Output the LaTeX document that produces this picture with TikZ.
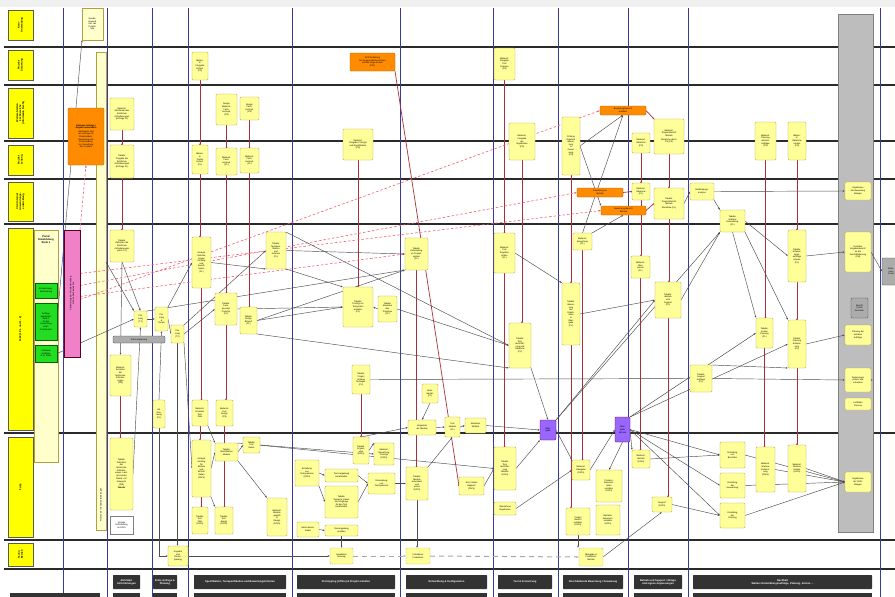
\documentclass[tikz,border=0pt]{standalone}
\usepackage{fontspec}
\setmainfont{Liberation Sans}
\usetikzlibrary{arrows.meta,calc}
\definecolor{byel}{HTML}{FFFF99}
\definecolor{bbord}{HTML}{B0A040}
\definecolor{hyel}{HTML}{FFFF00}
\definecolor{lyel}{HTML}{FFFFCC}
\definecolor{oran}{HTML}{FF8C00}
\definecolor{lanec}{HTML}{2A2A2A}
\definecolor{colc}{HTML}{3A3A9A}
\definecolor{redl}{HTML}{A8303A}
\definecolor{pinkl}{HTML}{F06070}
\definecolor{pinkb}{HTML}{F080C8}
\definecolor{greenb}{HTML}{22DD22}
\definecolor{grayc}{HTML}{BDBDBD}
\definecolor{purp}{HTML}{9966FF}
\definecolor{phase}{HTML}{333333}
\pgfdeclarelayer{back}\pgfdeclarelayer{mid}\pgfsetlayers{back,mid,main}
\tikzset{
 tf/.style={font=\fontsize{2.2}{2.6}\selectfont},
 yb/.style={draw=bbord,fill=byel,rounded corners=1.2pt,line width=0.4pt,inner sep=0.4pt,outer sep=0pt,align=center,tf},
 ob/.style={yb,draw=orange!70!black,fill=oran},
 db/.style={yb,dash pattern=on 1.2pt off 0.8pt},
 pb/.style={yb,draw=purple!60!black,fill=purp},
 gb/.style={yb,draw=gray!60!black,fill=gray!65},
 wb/.style={yb,draw=gray,fill=white,rounded corners=0pt},
 lb/.style={yb,fill=lyel,rounded corners=0pt},
 grb/.style={yb,fill=greenb,draw=green!40!black,rounded corners=0pt},
 pkb/.style={yb,fill=pinkb,draw=purple!50!black,rounded corners=0pt},
 gcol/.style={yb,fill=grayc,draw=gray,rounded corners=0pt},
 ar/.style={draw=black!70,line width=0.45pt,-{Latex[length=2.2pt,width=1.8pt]}},
 rl/.style={draw=redl,line width=0.7pt,-{Circle[length=1.6pt]}},
 pl/.style={draw=pinkl,line width=0.6pt,dash pattern=on 2.5pt off 2pt,-{Latex[length=2.5pt,width=2pt]}},
 bl/.style={draw=gray!70,line width=1pt,dash pattern=on 5pt off 4pt,-{Latex[length=2.5pt,width=2pt]}},
 hd/.style={draw=gray!70!black,fill=hyel,line width=0.4pt,outer sep=0pt,inner sep=0pt},
 phb/.style={fill=phase,rounded corners=0.6pt,text=white,font=\fontsize{2.6}{3}\selectfont\bfseries,align=center,inner sep=0pt,outer sep=0pt},
}
\newcommand\bx[7][yb]{\node[#1,minimum width={(#5-#3)*1pt},minimum height={(#6-#4)*1pt}] (#2) at ({(#3+#5)/2},{(#4+#6)/2}) {#7};}
\newcommand\hdr[6]{\bx[hd]{#1}{#2}{#3}{#4}{#5}{}\node[rotate=90,font=\fontsize{2.6}{3}\selectfont\bfseries,align=center] at (#1) {#6};}
\newcommand\rv[2]{\draw[rl] (#1.south) -- (#1.south |- #2.north);}
\begin{document}
\begin{tikzpicture}[x=1pt,y=-1pt]
\useasboundingbox (0,0) rectangle (895,597);
\begin{pgfonlayer}{back}
\fill[white] (0,0) rectangle (895,597);
\fill[gray!12] (0,0) rectangle (895,7);
\foreach \y in {47,85,141,179,224,433,540,569} \draw[lanec,line width=1.3pt] (4,\y) -- (895,\y);
\foreach \x in {63,107,152,188,292,400,493,558,628,688,880} \draw[colc,line width=0.8pt] (\x,8) -- (\x,597);
% lane headers
\hdr{h1}{8}{10}{33}{40}{Kern-\\Anwendung}
\hdr{h2}{8}{50}{33}{80}{Projekt-\\Steuerung}
\hdr{h3}{8}{88}{33}{138}{Weitere Stellen\\Fachbereiche\\(Informatik, Recht)}
\hdr{h4}{8}{145}{33}{175}{Projekt-\\Leitung}
\hdr{h5}{8}{182}{33}{221}{CSC Internet\\Anwendungs-\\entwicklung}
\hdr{h6}{8}{228}{33}{430}{1553 (1 PL und 1 - 2)}
\hdr{h7}{8}{437}{33}{537}{FAPs}
\hdr{h8}{8}{543}{33}{566}{Techn.\\Betrieb}
\bx[lb]{lp}{34}{230}{58}{462}{}
\node[tf,align=center,font=\fontsize{2.6}{3}\selectfont\bfseries] at (46,240) {Portal\\Entwicklung\\Stufe 1};
\bx[lb]{lbar}{96}{52}{106}{530}{}
\node[rotate=90,tf] at (101,505) {Prozess der Sonderanforderungen};
\bx[gcol]{gcol}{838}{14}{873}{532}{}
\end{pgfonlayer}
% left column boxes
\bx[lb]{topA}{82}{8}{103}{40}{Sonder-\\anwend.\\Kat. der\\Projekt-\\liste}
\bx[ob]{oA}{68}{108}{104}{165}{\textbf{Optionen Anfrage /}\\\textbf{Angebot entwickeln}\\[1pt]Abstimmen Ziel\\der Anfrage mit\\Stakeholdern;\\Bewertung und\\Entscheidung\\zur Umsetzung\\des Projekts}
\bx[pkb]{pk}{64}{230}{80}{357}{}
\node[rotate=90,tf,align=center] at (pk) {Abstimmung der Portalentwicklung\\mit den Fachbereichen};
\bx[grb]{gr1}{35}{283}{57}{298}{Entwicklungs-\\abstimmung}
\bx[grb]{gr2}{35}{303}{57}{340}{Anfrage\\bearbeiten\\Stufe 1\\für die\\Umsetzung\\beim\\Fachbereich}
\bx[grb]{gr3}{35}{345}{57}{362}{Aufwand\\schätzen\\\& PL Stufe}
% column B
\bx{bB1}{110}{98}{134}{130}{Meilenst.\\Abstimmen der\\fachlichen\\Anforderungen\\(Anfrage PL)}
\bx{bB2}{110}{145}{134}{178}{Tabelle:\\Freigabe der\\fachlichen\\Anforderungen\\(Anfrage PL)}
\bx{bB3}{110}{230}{134}{262}{Tabelle:\\Definition der\\fachlichen\\Anforderungen\\(nach PL)}
\bx{bB4}{134}{311}{147}{327}{Pla-\\nung\\(T1)}
\bx[gb]{gB}{113}{336}{165}{343}{Rahmenplanung}
\bx{bB5}{110}{355}{131}{396}{Meilenst.\\Erstellen\\der\\fachlichen\\Anforder-\\ungen\\(PM)}
\bx{bB6}{110}{438}{133}{510}{Tabelle:\\Definition\\der\\fachlichen\\Anforder-\\ungen, Leist.\\(je Kunde)\\[1pt]Bearb. mit\\Kategorie\\(PM)\\[1pt]\textbf{Tabelle}}
\bx[wb]{wB}{110}{516}{133}{534}{Vorlage\\Anforderung\\an FAPs}
% column C
\bx{bC1}{155}{307}{168}{331}{Pla-\\nung\\\&\\Termin}
\bx{bC2}{171}{325}{184}{343}{Pla-\\nung\\(T2)}
\bx{bC3}{153}{400}{165}{428}{Ab-\\stim-\\mung\\(PL)}
\bx{bC4}{168}{546}{188}{566}{Angebot\\und\\Termin-\\planung}
% column D
\bx{bD1}{192}{52}{208}{80}{Meilen-\\st.\\Freigabe\\Anford.\\(PS)}
\bx{bD2}{216}{94}{237}{125}{Design\\Meilenst.\\Fach-\\konzept\\(PS)}
\bx{bD3}{240}{97}{259}{120}{Design\\Fach-\\konzept\\(PS)}
\bx{bD4}{192}{145}{208}{174}{Meilen-\\st.\\Prüfen\\Anford.\\(PL)}
\bx{bD5}{216}{148}{237}{175}{Meilenst.\\Fach-\\konzept\\(PL)}
\bx{bD6}{240}{148}{259}{173}{Meilenst.\\Fach-\\konzept\\(PL)}
\bx{bD7}{192}{237}{211}{288}{Analyse\\Anforde-\\rungen\\Umfang\\und\\Spezifi-\\kation\\(PL)}
\bx{bD8}{215}{293}{237}{325}{Tabelle:\\Fach-\\konzept\\Prototyp\\(PL)}
\bx{bD9}{240}{307}{257}{334}{Tabelle:\\Design\\Entwurf\\(PL)}
\bx{bD10}{266}{232}{286}{269}{Tabelle:\\Testspezi-\\fikation\\und\\Kriterien\\(PL)}
\bx{bD11}{192}{400}{208}{426}{Meilenst.\\Erstellen\\Test-\\fälle}
\bx{bD12}{216}{400}{233}{426}{Meilenst.\\Test\\Design\\(PS)}
\bx{bD13}{192}{440}{211}{497}{Analyse\\Umfang\\für\\Module\\und\\Schnitt-\\stellen\\(FAPs)}
\bx{bD14}{215}{443}{238}{461}{Tabelle:\\Spezifikation\\Module}
\bx{bD15}{243}{437}{260}{453}{Tabelle:\\Test\\Daten}
\bx{bD16}{192}{507}{208}{534}{Tabelle:\\Test-\\fälle\\(FAPs)}
\bx{bD17}{215}{507}{233}{534}{Tabelle:\\Test-\\design\\(FAPs)}
\bx{bD18}{267}{498}{287}{536}{Meilenst.\\Module\\geprüft\\\&\\Design\\(FAPs)}
% column E
\bx[ob]{oE1}{350}{53}{395}{71}{NFO-Erstellung\\für die geschätzten Kosten\\und die Folge-Kosten\\(PSI)}
\bx{bE2}{343}{129}{373}{160}{Meilenst.\\Freigabe Prototyp\\und Spezifikation\\(PS)}
\bx{bE3}{343}{287}{373}{327}{Tabelle:\\Prototyp im\\Testsystem\\erstellen\\(PL)}
\bx{bE4}{378}{296}{397}{322}{Tabelle:\\Abnahme\\des\\Prototyps\\(PL)}
\bx{bE5}{352}{365}{370}{394}{Tabelle:\\Projekt\\Umfang\\festlegen\\(PL)}
\bx{bE6}{353}{437}{369}{464}{Tabelle:\\Projekt-\\plan\\(FAPs)}
\bx{bE7}{374}{443}{394}{465}{Meilenst.\\Bewertung\\Prototyp\\(FAPs)}
\bx{bE8}{295}{460}{319}{486}{Erstellung\\von\\Testsystemen\\(FAPs)}
\bx{bE9}{325}{469}{358}{482}{Test Umgebung\\bereitstellen}
\bx{bE10}{325}{486}{358}{518}{Tabelle:\\Systeme, Daten\\und Zugänge\\für den Test\\bereitstellen}
\bx{bE11}{368}{473}{395}{494}{Entwicklung\\von\\Testsystemen}
\bx{bE12}{297}{522}{319}{537}{Daten bereit-\\stellen}
\bx{bE13}{325}{525}{358}{536}{Testumgebung\\erstellen}
\bx[db]{bE14}{330}{548}{353}{564}{Installation\\Testumg.}
% column F
\bx{bF1}{405}{238}{428}{270}{Tabelle:\\Entwicklung\\im Projekt-\\system\\(PL)}
\bx{bF2}{422}{384}{438}{403}{Doku-\\mentat.\\(PL)}
\bx{bF3}{408}{420}{436}{435}{Integration\\der Module}
\bx{bF4}{445}{417}{460}{437}{Test\\Module\\(PL)}
\bx{bF5}{465}{418}{486}{433}{Abnahme\\Module}
\bx{bF6}{406}{467}{428}{500}{Tabelle:\\Module\\entwickeln\\und\\testen\\(FAPs)}
\bx{bF7}{459}{477}{484}{495}{Test / Daten\\Abgleich\\(FAPs)}
\bx[db]{bF8}{406}{548}{430}{564}{Installation\\Produktion}
% column G
\bx{bG1}{494}{48}{515}{80}{Meilenst.\\Freigabe\\Test\\Kriterien\\(PS)}
\bx{bG2}{509}{123}{535}{160}{Meilenst.\\Freigabe\\der\\Ergebnisse\\(PS)}
\bx{bG3}{494}{233}{515}{273}{Meilenst.\\Test\\Ergebnis\\prüfen\\(PL)}
\bx{bG4}{509}{323}{531}{368}{Tabelle:\\Test-\\durchfüh-\\rung und\\Abnahme\\(PL)}
\bx{bG5}{494}{447}{516}{490}{Tabelle:\\Test-\\durchfüh-\\rung\\Module\\(FAPs)}
\bx{bG6}{494}{502}{516}{515}{Übernahme\\Ergebnisse}
\bx[pb]{pG}{540}{420}{556}{440}{Über-\\gabe}
% column H
\bx{bH1}{562}{117}{580}{175}{Prüfung\\Ergebnis\\Bewer-\\tung\\\&\\Zuwei-\\sung\\(PS)}
\bx[ob]{oH2}{600}{106}{646}{115}{Bewertungsbericht\\erstellen}
\bx[ob]{oH3}{577}{188}{623}{197}{Zuweisung an\\Betrieb}
\bx[ob]{oH4}{601}{206}{646}{215}{Bewertungsbericht\\Betrieb}
\bx{bH5}{573}{233}{592}{250}{Meilenst.\\Bewertung\\(PL)}
\bx{bH6}{562}{283}{580}{345}{Tabelle:\\Bewer-\\tung\\der\\Ergeb-\\nisse\\\&\\Über-\\gabe\\(PL)}
\bx{bH7}{572}{460}{590}{480}{Meilenst.\\Übergabe\\(FAPs)}
\bx{bH8}{566}{508}{590}{535}{Projekt\\Bericht\\erstellen\\(FAPs)}
\bx{bH9}{596}{470}{622}{502}{Prozess-\\dokumen-\\tation\\erstellen\\(FAPs)}
\bx{bH10}{596}{505}{620}{535}{Betriebs-\\dokument.\\erstellen\\(FAPs)}
\bx[pb]{pH}{615}{417}{630}{442}{Über-\\gabe\\Betrieb}
\bx[db]{bH11}{579}{548}{603}{566}{Übergabe in\\Produktion\\Betrieb}
% column I
\bx{bI1}{632}{133}{650}{153}{Meilenst.\\Abnahme\\(PS)}
\bx{bI2}{654}{119}{684}{154}{Meilenst.\\Projekt-Bericht\\Betrieb\\[1pt]Abnahme durch\\PS (PS)}
\bx{bI3}{632}{183}{650}{200}{Meilenst.\\Abnahme\\(PL)}
\bx{bI4}{654}{188}{684}{219}{Tabelle:\\Projekt-Bericht\\Betrieb\\[1pt]Abnahme (PL)}
\bx{bI5}{631}{256}{650}{278}{Meilenst.\\Über-\\nahme\\(PL)}
\bx{bI6}{655}{282}{681}{318}{Tabelle:\\Betrieb\\und\\Support\\(PL)}
\bx{bI7}{632}{450}{650}{468}{Meilenst.\\Betrieb\\(FAPs)}
\bx{bI8}{652}{497}{672}{512}{Support\\(FAPs)}
% column J
\bx{bJ1}{690}{183}{714}{200}{Gefährdungs-\\analyse}
\bx{bJ2}{720}{210}{745}{232}{Tabelle:\\Weitere\\Entwicklung\\(PL)}
\bx{bJ3}{755}{122}{776}{160}{Meilenst.\\Planung\\weiterer\\Aufträge\\(PS)}
\bx{bJ4}{788}{122}{806}{160}{Meilen-\\st.\\Abnahme\\Kosten\\(PS)}
\bx{bJ5}{788}{230}{806}{282}{Tabelle:\\Entwick-\\lungs-\\aufträge\\planen\\(PL)}
\bx{bJ6}{756}{318}{773}{348}{Tabelle:\\Kosten\\Planung\\(PL)}
\bx{bJ7}{690}{365}{712}{392}{Tabelle:\\Support\\Aufträge\\(PL)}
\bx{bJ8}{720}{442}{745}{468}{Erstellung\\von\\Berichten}
\bx{bJ9}{720}{473}{745}{498}{Erstellung\\der\\Auswertung}
\bx{bJ10}{720}{503}{745}{528}{Erstellung\\der\\Planung}
\bx{bJ11}{756}{447}{775}{492}{Meilenst.\\Weitere\\Entwick-\\lung\\(FAPs)}
\bx{bJ12}{788}{445}{806}{492}{Meilenst.\\Weitere\\Kosten\\(FAPs)}
\bx{bJ13}{788}{320}{806}{368}{Tabelle:\\Planung\\Entwick-\\lung\\(PL)}
% gray column
\bx{bK1}{845}{182}{871}{200}{Ergebnisse\\der Bewertung\\ablegen}
\bx{bK2}{845}{232}{871}{272}{Erstellen\\Ergebnisbericht\\an die\\Geschäftsleitung\\(PM)}
\bx[gb]{gK3}{851}{298}{868}{318}{Bericht\\Portal\\Gremium}
\bx{bK4}{845}{325}{871}{345}{Planung der\\weiteren\\Aufträge}
\bx{bK5}{845}{368}{871}{392}{Änderungen\\planen und\\umsetzen}
\bx{bK6}{845}{398}{871}{410}{Leitfaden\\Prozess}
\bx{bK7}{845}{472}{871}{492}{Ergebnisse\\der FAPs\\ablegen}
\bx[gb]{kOff}{882}{258}{900}{285}{Doku-\\ment\\Portal}
% phases
\bx[phb]{ph1}{113}{575}{140}{589}{Abl./Start\\Anforderungen}
\bx[phb]{ph2}{153}{575}{177}{589}{Erste Anfrage \&\\Planung}
\bx[phb]{ph3}{194}{575}{286}{589}{Spezifikation, Testspezifikation und Bewertungskriterien}
\bx[phb]{ph4}{297}{575}{395}{589}{Prototyping (offline) \& Projekt erstellen}
\bx[phb]{ph5}{406}{575}{487}{589}{Entwicklung \& Konfiguration}
\bx[phb]{ph6}{498}{575}{552}{589}{Test \& Freisetzung}
\bx[phb]{ph7}{563}{575}{623}{589}{Abschließende Bewertung / Zuweisung}
\bx[phb]{ph8}{634}{575}{682}{589}{Betrieb und Support / Ablage\\und eigene Anpassungen}
\bx[phb]{ph9}{693}{575}{872}{589}{Nachhalt\\Weitere Entwicklungsaufträge, Planung, Kosten ...}
\foreach \a/\b in {10/100,113/140,153/177,194/286,297/395,406/487,498/552,563/623,634/682,693/872}
  \fill[phase] (\a,593) rectangle (\b,597);
\begin{pgfonlayer}{mid}
% red verticals
\rv{bB1}{bB2} \rv{bB2}{bB3} \rv{bB5}{bB6}
\rv{bD1}{bD4} \rv{bD4}{bD7} \rv{bD7}{bD11} \rv{bD11}{bD13} \rv{bD13}{bD16}
\rv{bD2}{bD5} \rv{bD5}{bD8} \rv{bD8}{bD12} \rv{bD12}{bD17}
\rv{bD3}{bD6} \rv{bD6}{bD9}
\rv{bE2}{bE3} \rv{bE5}{bE6}
\rv{bF1}{bF6}
\rv{bG1}{bG3} \rv{bG3}{bG5} \rv{bG2}{bG4}
\rv{bH1}{bH6} \rv{bH6}{bH8} \rv{bH5}{bH7}
\rv{bI1}{bI3} \rv{bI3}{bI5} \rv{bI5}{bI7}
\rv{bI2}{bI4} \rv{bI4}{bI6} \rv{bI6}{bI8}
\rv{bJ3}{bJ6} \rv{bJ6}{bJ11} \rv{bJ4}{bJ5} \rv{bJ5}{bJ13} \rv{bJ13}{bJ12}
\draw[rl] (oE1.south east) -- (bF7.west);
\draw[rl] (oH2.east) -- (bI2.north west);
\draw[rl] (oH3.east) -- (bI3.west);
\draw[rl] (oH4.east) -- (bI4.west);
% pink dashed
\draw[pl] (pk.north east) -- (oA.south);
\draw[pl] ([yshift=-6pt]pk.east) -- (oH2.west);
\draw[pl] ([yshift=8pt]pk.east) -- (oH3.west);
\draw[pl] ([yshift=20pt]pk.east) -- (oH4.west);
\draw[pl] ([yshift=-3pt]pk.east) -- (bF1.west);
% left group
\draw[ar] (gr3.east) -- (bB4.west);
\draw[ar] (gr2.east) -- (topA.south west);
\draw[ar] ([yshift=29pt]lbar.east) -- (bB4.north west);
\draw[ar] (bB3.south) -- (bB4.north);
\draw[ar] (bB3.south) -- (bB5.north);
\draw[ar] (bB4.east) -- (bC1.west);
\draw[ar] (bC1.east) -- (bC2.west);
\draw[ar] (bC1.north east) -- (bD7.west);
\draw[ar] (bC2.east) -- (bD8.west);
\draw[ar] (bC2.north east) -- (bD10.west);
\draw[ar] (bD7.east) -- (bD10.south west);
\draw[ar] (bC3.north) -- (bC1.south);
\draw[ar] (bB6.east) -- (bB4.south);
\draw[ar] (bC2.south) -- (bC2.south |- bC4.north);
\draw[ar] (bC3.south) -- (bC3.south |- bC4.west) -- (bC4.west);
\draw[ar] (bC2.south east) -- (bD13.west);
\draw[ar] (bD13.east) -- (bD14.west);
\draw[ar] (bD14.east) -- (bD15.west);
\draw[ar] (bD14.south east) -- (bD18.north west);
\draw[ar] (bD11.south east) -- (bD14.north west);
\draw[ar] (bD15.east) -- (bE7.west);
\draw[ar] (bD14.north east) -- (bG5.west);
\draw[ar] (bD13.south east) -- (bD17.north west);
% middle
\draw[ar] (bD10.east) -- (bF1.west);
\draw[ar] (bD9.east) -- (bF1.south west);
\draw[ar] (bD9.east) -- (bE3.west);
\draw[ar] (bD10.south east) -- (bE3.north west);
\draw[ar] (bD8.east) -- (bE3.west);
\draw[ar] (bE4.west) -- (bE3.east);
\draw[ar] (bD10.north east) -- (bG4.west);
\draw[ar] (bD9.south east) -- (bG4.south west);
\draw[ar] (bE4.east) -- (bG4.west);
\draw[ar] (bB4.north east) -- (bF1.south west);
\draw[ar] (bE5.east) -- (bJ7.west);
\draw[ar] (bF2.south) -- (bF3.north);
\draw[ar] (bF3.east) -- (bF4.west);
\draw[ar] (bF4.east) -- (bF5.west);
\draw[ar] (bF5.east) -- (pG.west);
\draw[ar] (bE6.north) -- (bF3.west);
\draw[ar] (bE8.east) -- (bE9.west);
\draw[ar] (bE9.east) -- (bE11.west);
\draw[ar] (bE10.east) -- (bE11.west);
\draw[ar] (bE8.south east) -- (bE10.west);
\draw[ar] (bE11.east) -- (bF6.west);
\draw[ar] (bF6.north east) -- (bF4.south);
\draw[ar] (bF7.east) -- (bG5.west);
\draw[ar] (bE12.east) -- (bE13.west);
\draw[ar] (bE13.south) -- (bE13.south |- bE14.north);
\draw[ar] (bF6.south) -- (bF6.south |- bF8.north);
\draw[ar] (bE6.east) -- (bE7.north west);
% right part
\draw[ar] (bG5.east) -- (pG.south west);
\draw[ar] (bG4.south east) -- (pG.north);
\draw[ar] (pG.east) -- (bH7.north west);
\draw[ar] (pG.north east) -- (bJ2.south west);
\draw[ar] (pG.north east) -- (bI6.west);
\draw[ar] (bG6.east) -- (bH7.west);
\draw[ar] (bH7.east) -- (pH.west);
\draw[ar] (pH.east) -- (bJ8.west);
\draw[ar] (pH.east) -- (bJ9.west);
\draw[ar] (pH.east) -- (bJ10.west);
\draw[ar] (pH.south) -- (bH9.north);
\draw[ar] (pH.east) -- (bI7.north west);
\draw[ar] (pH.north east) -- (bJ13.west);
\draw[ar] (pH.north east) -- (bJ6.west);
\draw[ar] (bI7.east) -- (bJ8.west);
\draw[ar] (bJ8.east) -- (bK7.west);
\draw[ar] (bJ9.east) -- (bK7.west);
\draw[ar] (bJ10.east) -- (bK7.west);
\draw[ar] (bJ11.east) -- (bK7.west);
\draw[ar] (bJ12.east) -- (bK7.west);
\draw[ar] (bJ7.east) -- (bK5.west);
\draw[ar] (bJ13.east) -- (bK4.west);
\draw[ar] (bJ5.east) -- (bK2.west);
\draw[ar] (bJ1.east) -- (bK1.west);
\draw[ar] (bI4.east) -- (bJ1.west);
\draw[ar] (bJ1.south east) -- (bJ2.north west);
\draw[ar] (bJ2.east) -- (bJ5.west);
\draw[ar] (bJ2.south east) -- (bJ13.north west);
\draw[ar] (bJ2.south) -- (bJ6.north west);
\draw[ar] (bI6.east) -- (bJ2.south west);
\draw[ar] (bH6.east) -- (bI6.west);
\draw[ar] (bG3.east) -- (bH6.north west);
\draw[ar] (bH1.east) -- (oH2.south);
\draw[ar] (bH1.east) -- (oH4.north west);
\draw[ar] (bH5.north) -- (oH2.south);
\draw[ar] (bH5.north east) -- (oH4.south);
\draw[ar] (bJ7.north east) -- (bJ13.south west);
\draw[ar] (bI8.east) -- (bJ10.west);
\draw[ar] (bK2.east) -- (kOff.west);
\draw[ar] (bK5.east) -- (bK5.east -| gcol.east);
% bottom lane
\draw[ar] (bC4.east) -- (bE14.west);
\draw[bl] (bE14.east) -- (bF8.west);
\draw[bl] (bF8.east) -- (bH11.west);
\draw[ar] (bH11.east) -- (bI8.south);
\draw[ar] (bH8.south) -- (bH8.south |- bH11.north);
\end{pgfonlayer}
\end{tikzpicture}
\end{document}
